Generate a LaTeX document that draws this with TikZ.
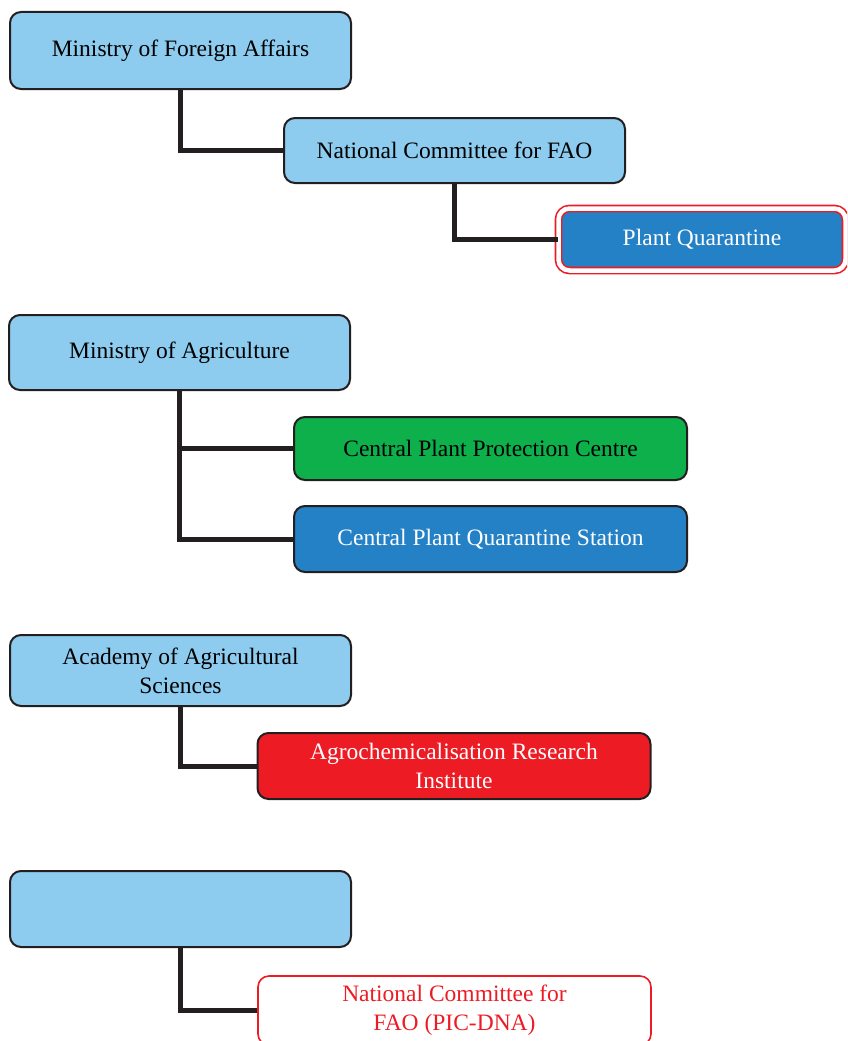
\documentclass[tikz,border=0pt]{standalone}
\usepackage{fontspec}
\setmainfont{Liberation Serif}
\usetikzlibrary{calc}
\definecolor{skyfill}{HTML}{8DCBEF}
\definecolor{bluefill}{HTML}{2481C6}
\definecolor{greenfill}{HTML}{0DB04B}
\definecolor{redfill}{HTML}{ED1C24}
\definecolor{edge}{HTML}{231F20}
\tikzset{
	box/.style={draw=edge, line width=2pt, rounded corners=11pt, inner sep=0pt, align=center,
		font=\fontsize{23.5}{29}\selectfont},
	upper/.style={box, fill=skyfill, minimum width=341pt},
	lower/.style={box, minimum width=393pt},
	link/.style={line width=5pt, draw=edge}
}

\begin{document}
\begin{tikzpicture}[x=1pt, y=-1pt]
		%%%%% START %%%%%
		\useasboundingbox (0, 0) rectangle (847, 1041);
		\clip (0, 0) rectangle (847, 1041);
		
		\node[upper, minimum height=77pt] (mfa) at (180.5, 50.5) {Ministry of Foreign Affairs};
		\node[upper, minimum height=65pt] (ncf) at (454.5, 150.5) {National Committee for FAO};
		\node[box, draw=redfill, fill=bluefill, text=white, line width=1.6pt, double=white,
			double distance=4.5pt, minimum width=287pt, minimum height=62pt] (pq) at (702, 239.5) {Plant Quarantine};
		\draw[link] (mfa.south) |- (ncf.west);
		\draw[link] (ncf.south) |- (pq.west);
		
		\node[upper, minimum height=75pt] (moa) at (179.5, 352.5) {Ministry of Agriculture};
		\node[lower, fill=greenfill, minimum height=63pt] (cppc) at (490.5, 448.5) {Central Plant Protection Centre};
		\node[lower, fill=bluefill, text=white, minimum height=66pt] (cpqs) at (490.5, 539) {Central Plant Quarantine Station};
		\draw[link] (moa.south) |- (cppc.west);
		\draw[link] (moa.south) |- (cpqs.west);
		
		\node[upper, minimum height=71pt] (aas) at (180.5, 670.5) {Academy of Agricultural\\Sciences};
		\node[lower, fill=redfill, text=white, minimum height=66pt] (ari) at (454, 766) {Agrochemicalisation Research\\Institute};
		\draw[link] (aas.south) |- (ari.west);
		
		% bottom edge of the last box runs off the page
		\node[upper, minimum height=76pt] (blank) at (180.5, 909) {};
		\node[lower, draw=redfill, fill=white, text=redfill, line width=1.6pt, minimum height=69pt] (pic) at (454.5, 1010.5) {National Committee for\\FAO (PIC-DNA)};
		\draw[link] (blank.south) |- (pic.west);
		%%%%% END %%%%%
\end{tikzpicture}
\end{document}
